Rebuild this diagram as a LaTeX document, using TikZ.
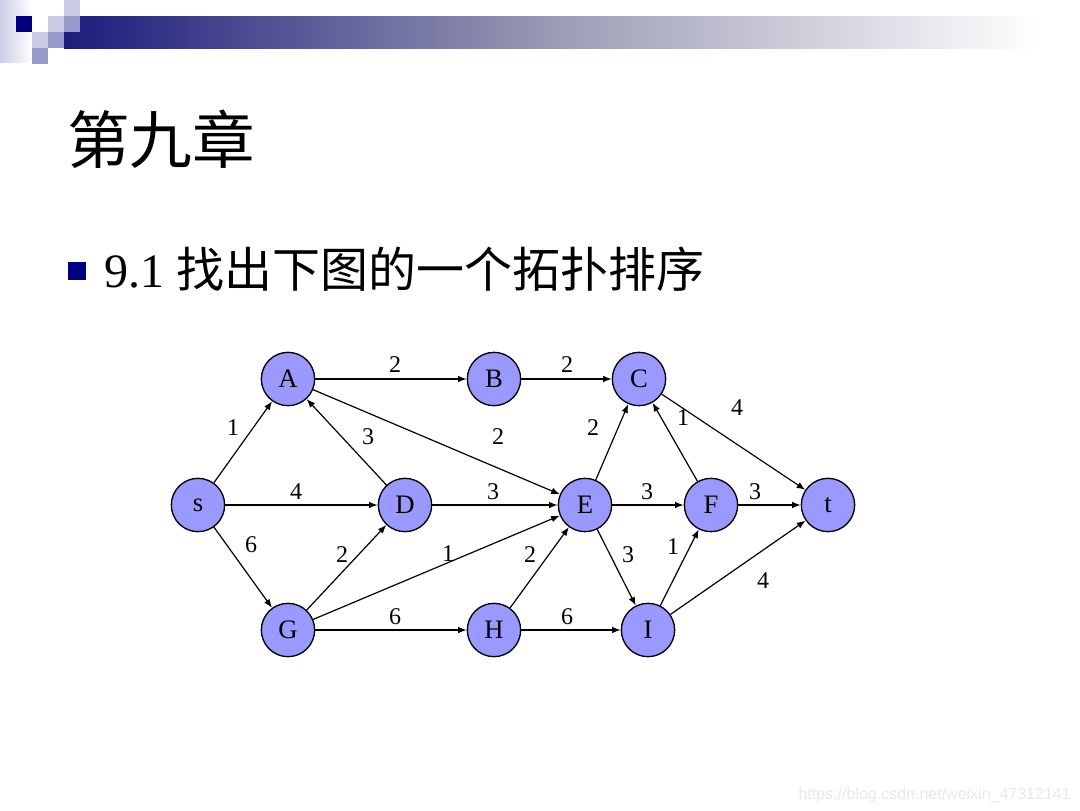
\documentclass[tikz,border=0pt]{standalone}
\usepackage{fontspec}
\setmainfont{Liberation Serif}
\newfontfamily\cjk{Noto Sans CJK SC}
\newfontfamily\markfont{Liberation Sans}
\usetikzlibrary{arrows.meta}
\definecolor{navy}{HTML}{000080}
\definecolor{vertex}{HTML}{9999FF}
\definecolor{lilac}{HTML}{9999CC}
\definecolor{paleblue}{HTML}{CCCCE6}
\definecolor{barblue}{HTML}{1C1C7C}
\definecolor{barmid}{HTML}{9C9CB6}

\begin{document}
\begin{tikzpicture}[x=0.75pt,y=-0.75pt,
  vert/.style={circle,draw,fill=vertex,line width=1pt,minimum size=40pt,inner sep=0pt,font=\fontsize{20}{20}\selectfont},
  edge/.style={-{Latex[length=6.5pt,width=5pt]},line width=0.9pt},
  wt/.style={inner sep=0pt,font=\fontsize{18}{18}\selectfont}]
\useasboundingbox (0,0) rectangle (1080,810);
\fill[left color=paleblue,right color=white] (0,0) rectangle (32,62);
\fill[left color=barblue,right color=barmid] (64,16) rectangle (560,48);
\fill[left color=barmid,right color=white] (559,16) rectangle (1040,48);
\fill[navy] (16,16) rectangle +(16,16);
\fill[paleblue] (48,16) rectangle +(16,16);
\fill[paleblue] (64,0) rectangle +(16,16);
\fill[lilac] (64,16) rectangle +(16,16);
\fill[paleblue] (32,32) rectangle +(16,16);
\fill[lilac] (48,32) rectangle +(16,16);
\fill[lilac] (32,48) rectangle +(16,16);

\node[anchor=base west,inner sep=0pt,font=\cjk\fontsize{47}{47}\selectfont] (title) at (67,163) {第九章};
\fill[navy] (68,262) rectangle (86,280);
\node[anchor=base west,inner sep=0pt,font=\fontsize{36}{36}\selectfont] (task) at (104,287) {9.1 {\cjk 找出下图的一个拓扑排序}};

\node[vert] (A) at (288,379) {A};
\node[vert] (B) at (494,379) {B};
\node[vert] (C) at (639,379) {C};
\node[vert] (s) at (198,505) {s};
\node[vert] (D) at (405,505) {D};
\node[vert] (E) at (585,505) {E};
\node[vert] (F) at (711,505) {F};
\node[vert] (t) at (828,505) {t};
\node[vert] (G) at (288,630) {G};
\node[vert] (H) at (494,630) {H};
\node[vert] (I) at (648,630) {I};

\foreach \u/\v/\w/\lx/\ly in {s/A/1/233/428, A/B/2/395/365, B/C/2/567/365, D/A/3/368/437,
  A/E/2/498/437, E/C/2/593/428, F/C/1/683/418, C/t/4/737/408, s/D/4/296/492,
  D/E/3/493/492, E/F/3/647/492, F/t/3/755/492, s/G/6/251/545, G/D/2/342/555,
  G/E/1/448/554, H/E/2/530/555, E/I/3/628/555, I/F/1/673/547, I/t/4/763/581,
  G/H/6/395/617, H/I/6/567/617}
  {\draw[edge] (\u) -- (\v);
   \node[wt] (w\u\v) at (\lx,\ly) {\w};}

\node[anchor=base east,inner sep=0pt,text=black!9,font=\markfont\fontsize{12}{12}\selectfont] (mark) at (1071,799) {https://blog.csdn.net/weixin\_47312141};
\end{tikzpicture}
\end{document}
